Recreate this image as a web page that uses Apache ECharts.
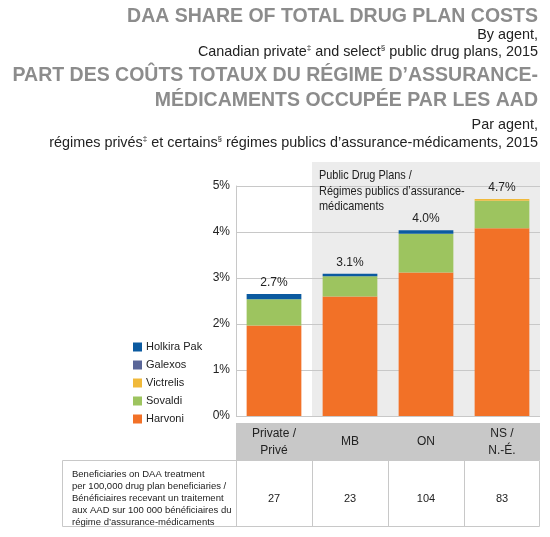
<!DOCTYPE html>
<html>
<head>
<meta charset="utf-8">
<script src="https://cdn.jsdelivr.net/npm/echarts@6/dist/echarts.min.js"></script>
<style>html,body{margin:0;padding:0;background:#fff}#c{width:550px;height:537px}</style>
</head>
<body>
<div id="c"></div>
<script>
const categories = ['Private /\nPrivé', 'MB', 'ON', 'NS /\nN.-É.'];
const harvoni   = [1.97, 2.60, 3.12, 4.08];
const sovaldi   = [0.57, 0.44, 0.84, 0.60];
const victrelis = [0, 0, 0, 0.04];
const galexos   = [0, 0, 0, 0];
const holkira   = [0.11, 0.05, 0.08, 0];
const totalLabels = ['2.7%', '3.1%', '4.0%', '4.7%'];
const beneficiaries = [27, 23, 104, 83];
const yTicks = [0, 1, 2, 3, 4, 5];

const SANS = "'Liberation Sans', Arial, Helvetica, sans-serif";
const TITLE_GRAY = '#8c8c8c';
const TXT = '#222';

const chart = echarts.init(document.getElementById('c'), null, {renderer: 'canvas'});

function ttl(text, top, size, bold, color, lh) {
  return {
    text: text, right: 12, top: top, padding: 0,
    textStyle: {
      fontFamily: SANS, fontSize: size, fontWeight: bold ? 'bold' : 'normal',
      color: color, lineHeight: lh,
      rich: { sup: { fontFamily: SANS, fontSize: 8, color: color, verticalAlign: 'top', lineHeight: lh } }
    }
  };
}

const mk = (name, data, color) => ({
  name: name, type: 'bar', stack: 'total', data: data, barWidth: '72%',
  itemStyle: { color: color }, emphasis: { disabled: true }
});

const series = [
  mk('Harvoni', harvoni, '#f27127'),
  mk('Sovaldi', sovaldi, '#9dc45f'),
  mk('Victrelis', victrelis, '#f0b93a'),
  mk('Galexos', galexos, '#5a6698'),
  mk('Holkira Pak', holkira, '#0b5aa0')
];
series[4].label = {
  show: true, position: 'top', distance: 5,
  formatter: p => totalLabels[p.dataIndex],
  fontFamily: SANS, fontSize: 12, color: TXT
};

chart.setOption({
  animation: false,
  title: [
    ttl('DAA SHARE OF TOTAL DRUG PLAN COSTS', 7, 19.5, true, TITLE_GRAY, 20),
    ttl('By agent,', 27, 14.4, false, TXT, 16),
    ttl('Canadian private{sup|‡} and select{sup|§} public drug plans, 2015', 44, 14.4, false, TXT, 16),
    ttl('PART DES COÛTS TOTAUX DU RÉGIME D’ASSURANCE-', 66, 19.5, true, TITLE_GRAY, 20),
    ttl('MÉDICAMENTS OCCUPÉE PAR LES AAD', 91, 19.5, true, TITLE_GRAY, 20),
    ttl('Par agent,', 117, 14.4, false, TXT, 16),
    ttl('régimes privés{sup|‡} et certains{sup|§} régimes publics d’assurance-médicaments, 2015', 135, 14.4, false, TXT, 16)
  ],
  legend: {
    orient: 'vertical', left: 133, top: 340, padding: 0,
    data: ['Holkira Pak', 'Galexos', 'Victrelis', 'Sovaldi', 'Harvoni'],
    icon: 'rect', itemWidth: 9, itemHeight: 9, itemGap: 4,
    selectedMode: false,
    textStyle: { fontFamily: SANS, fontSize: 11, color: TXT, lineHeight: 14, padding: [0, 0, 0, -1] }
  },
  grid: { left: 236, right: 10, top: 186, bottom: 121, containLabel: false },
  xAxis: [
    {
      type: 'category', data: categories, position: 'bottom',
      axisLine: { show: false }, axisTick: { show: false },
      axisLabel: { fontFamily: SANS, fontSize: 12, color: TXT, margin: 26, verticalAlign: 'middle', lineHeight: 17 }
    },
    {
      type: 'category', data: categories, position: 'bottom', offset: 75,
      axisLine: { show: false }, axisTick: { show: false },
      axisLabel: { fontFamily: SANS, fontSize: 11, color: TXT, margin: 8, verticalAlign: 'middle',
        formatter: (v, i) => String(beneficiaries[i]) }
    }
  ],
  yAxis: {
    type: 'value', min: yTicks[0], max: yTicks[yTicks.length - 1], interval: 1,
    axisLine: { show: true, lineStyle: { color: '#c8c8c8' } },
    axisTick: { show: false },
    splitLine: { lineStyle: { color: '#c8c8c8' } },
    axisLabel: { fontFamily: SANS, fontSize: 12, color: TXT, margin: 6, formatter: '{value}%' }
  },
  series: series
});

// Decorations derived from the axes
const c0 = chart.convertToPixel({xAxisIndex: 0}, categories[0]);
const c1 = chart.convertToPixel({xAxisIndex: 0}, categories[1]);
const band = c1 - c0;
const left = c0 - band / 2;
const right = left + band * categories.length;
const y0 = chart.convertToPixel({yAxisIndex: 0}, 0);

const headTop = y0 + 7, headBot = y0 + 44, bodyBot = y0 + 111;
const tblLeft = 62;
const g = [];
g.push({ type: 'rect', z: -10, silent: true,
  shape: { x: left + band, y: 162, width: right - left - band, height: y0 - 162 },
  style: { fill: '#ececec' } });
g.push({ type: 'rect', z: -10, silent: true,
  shape: { x: left, y: headTop, width: right - left, height: headBot - headTop },
  style: { fill: '#c8c8c8' } });
g.push({ type: 'rect', z: -10, silent: true,
  shape: { x: tblLeft + 0.5, y: headBot + 0.5, width: right - tblLeft - 1, height: bodyBot - headBot - 1 },
  style: { fill: '#fff', stroke: '#c8c8c8', lineWidth: 1 } });
for (let i = 0; i <= categories.length - 1; i++) {
  const x = Math.round(left + band * i) + 0.5;
  g.push({ type: 'line', z: -9, silent: true,
    shape: { x1: x, y1: headBot, x2: x, y2: bodyBot }, style: { stroke: '#c8c8c8', lineWidth: 1 } });
}
g.push({ type: 'text', z: 10, silent: true, x: left + band + 7, y: 168, scaleX: 0.84, scaleY: 1,
  style: { text: 'Public Drug Plans /\nRégimes publics d’assurance-\nmédicaments', font: '13px ' + SANS, fill: TXT, lineHeight: 15.5 } });
g.push({ type: 'text', z: 10, silent: true, left: tblLeft + 10, top: headBot + 8,
  style: { text: 'Beneficiaries on DAA treatment\nper 100,000 drug plan beneficiaries /\nBénéficiaires recevant un traitement\naux AAD sur 100 000 bénéficiaires du\nrégime d’assurance-médicaments',
    font: '9.5px ' + SANS, fill: TXT, lineHeight: 12 } });
chart.setOption({ graphic: g });
</script>
</body>
</html>
